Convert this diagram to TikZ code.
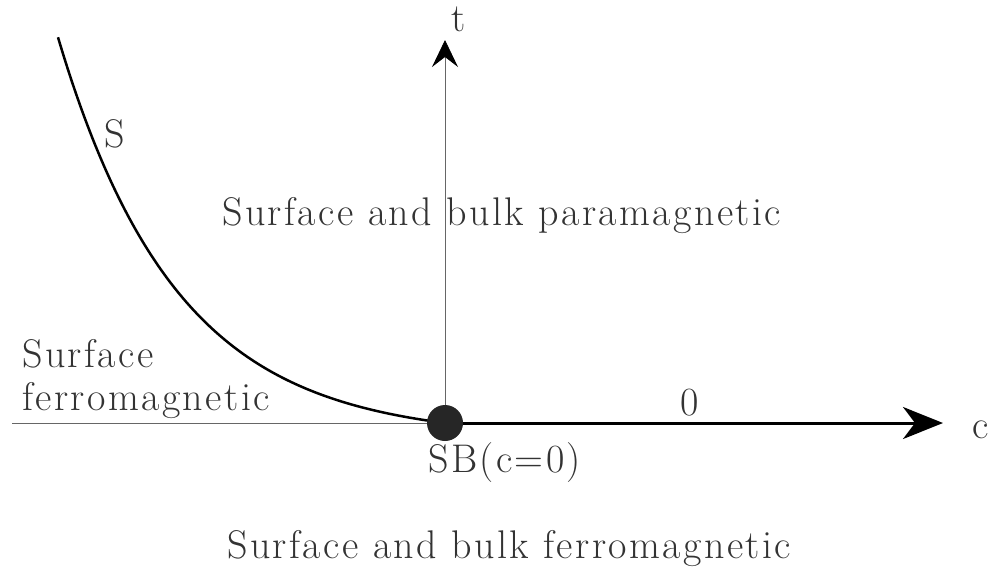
\documentclass[tikz,border=0pt]{standalone}
\usepackage{fontspec}
\usetikzlibrary{arrows.meta}
\newfontfamily\lblfont[LetterSpace=6]{Latin Modern Roman}
\tikzset{
  lbl/.style={inner sep=0pt, anchor=base west, font=\lblfont\fontsize{40}{48}\selectfont, text=black!80},
  thinaxis/.style={line width=0.8pt, black!60},
  thickaxis/.style={line width=3pt, black},
  curveline/.style={line width=2.5pt, black},
  dotstyle/.style={circle, fill=black!85, minimum size=36pt, inner sep=0pt},
}
\begin{document}
\begin{tikzpicture}[x=1pt,y=-1pt]
\useasboundingbox (0,0) rectangle (992,573);
% coordinates
\coordinate (o) at (445,423);
\coordinate (tEnd) at (445,40);
\coordinate (cEnd) at (943,423);
\coordinate (leftEnd) at (12,423);
% axes
\draw[thinaxis] (leftEnd) -- (o);
\draw[thinaxis, -{Stealth[length=27pt,width=26pt,inset=10pt,color=black]}] (o) -- (tEnd);
\draw[thickaxis, -{Stealth[length=40pt,width=32pt,inset=12pt]}] (o) -- (cEnd);
% S curve
\draw[curveline] plot[domain=58:445, samples=120, smooth] (\x, {423 - 15.5*(exp(0.0084*(445-\x))-1)});
% dot
\node[dotstyle] (sb) at (o) {};
% labels
\node[lbl] (tlab) at (451,31) {t};
\node[lbl] (clab) at (972,438) {c};
\node[lbl] (slab) at (104,147) {S};
\node[lbl] (zlab) at (680,415) {0};
\node[lbl] (sblab) at (428,472) {SB(c=0)};
\node[lbl] (para) at (222,225) {Surface and bulk paramagnetic};
\node[lbl] (surf1) at (22,367) {Surface};
\node[lbl] (surf2) at (22,410) {ferromagnetic};
\node[lbl] (ferro) at (227,558) {Surface and bulk ferromagnetic};
\end{tikzpicture}
\end{document}
